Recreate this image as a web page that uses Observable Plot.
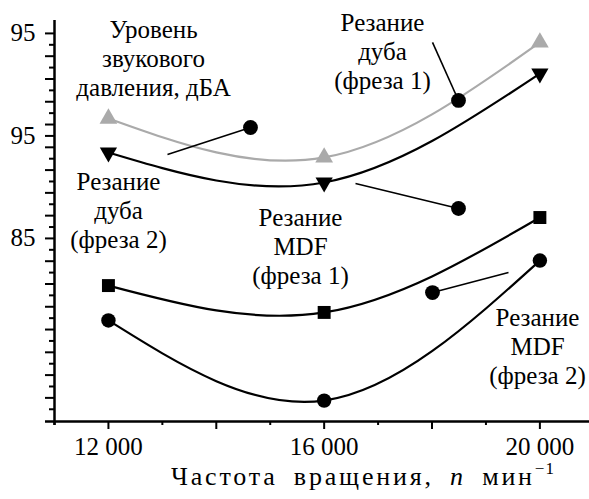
<!DOCTYPE html>
<html><head><meta charset="utf-8">
<script src="https://cdn.jsdelivr.net/npm/d3@7"></script>
<script src="https://cdn.jsdelivr.net/npm/@observablehq/plot@0.6"></script>
<style>
html,body{margin:0;padding:0;background:#fff;}
#chart{width:589px;height:464px;}
#caption{font-family:"Liberation Serif",serif;font-size:26px;line-height:25px;width:452px;margin-left:137px;text-align:center;white-space:nowrap;color:#000;letter-spacing:2.8px;word-spacing:7px;}
#caption .sup{font-size:17px;position:relative;top:-11px;letter-spacing:1px;}
</style>
</head><body>
<div id="chart"></div>
<div id="caption">Частота вращения, <i>n</i> мин<span class="sup">−1</span></div>
<script>
// Spindle speed, rpm
const rpm = [12000, 16000, 20000];
// Sound pressure level, dBA
const oakCutter1 = [90.85, 88.95, 94.56];  // grey, up triangles
const oakCutter2 = [89.19, 87.73, 93.04];  // black, down triangles
const mdfCutter1 = [82.70, 81.39, 86.02];  // squares
const mdfCutter2 = [81.00, 77.09, 83.92];  // circles

// Axis tick labels
const xLabelTicks = [12000, 16000, 20000];
const yLabelTicks = [95, 90, 85];
const yLabelText = ["95", "95", "85"];

// Annotations (data units)
const labelText = ["Уровень\nзвукового\nдавления, дБА", "Резание\nдуба\n(фреза 1)", "Резание\nдуба\n(фреза 2)", "Резание\nMDF\n(фреза 1)", "Резание\nMDF\n(фреза 2)"];
const labelX = [12836, 17082, 12187, 15561, 19956];
const labelY = [91.97, 92.30, 84.51, 82.80, 77.92];
const leaderX1 = [13095, 18009, 16581, 19418];
const leaderY1 = [89.09, 94.56, 87.68, 83.34];
const leaderX2 = [14634, 18491, 18491, 18009];
const leaderY2 = [90.41, 91.73, 86.46, 82.36];

const xDomain = [11000, 20920];
const yDomain = [76.07, 95.63];

const rows = vals => rpm.map((x, i) => ({x, y: vals[i]}));
const gray = "#aaaaaa";

const xLong = d3.range(12000, 20001, 2000).filter(d => !xLabelTicks.includes(d));
const xShort = d3.range(11000, 20001, 2000);
const yAll = d3.range(0, 34).map(k => 95 - k * 5 / 9);
const yLong = yAll.filter((d, k) => k % 2 === 0 && !yLabelTicks.some(t => Math.abs(t - d) < 1e-6));
const yShort = yAll.filter((d, k) => k % 2 === 1 && !yLabelTicks.some(t => Math.abs(t - d) < 1e-6));
const yLabelMap = new Map(yLabelTicks.map((t, i) => [t, yLabelText[i]]));
const fmtX = d => d3.format(",")(d).replace(",", " ");
const idx = d3.range(leaderX1.length);

const chart = Plot.plot({
  width: 589, height: 464,
  marginLeft: 54, marginRight: 0, marginTop: 20, marginBottom: 43,
  x: {domain: xDomain},
  y: {domain: yDomain},
  style: {fontFamily: "'Liberation Serif', serif", fontSize: "25px", color: "#000", background: "#fff", overflow: "visible"},
  marks: [
    Plot.axisX(xLabelTicks, {tickSize: 8, tickPadding: 8, strokeWidth: 2, tickFormat: fmtX, label: null, fontSize: 25}),
    Plot.axisX(xLong, {tickSize: 8, strokeWidth: 2, tickFormat: () => "", label: null}),
    Plot.axisX(xShort, {tickSize: 4, strokeWidth: 2, tickFormat: () => "", label: null}),
    Plot.axisY(yLabelTicks, {tickSize: 9, tickPadding: 10, strokeWidth: 2, tickFormat: d => yLabelMap.get(d), label: null, fontSize: 25}),
    Plot.axisY(yLong, {tickSize: 9, strokeWidth: 2, tickFormat: () => "", label: null}),
    Plot.axisY(yShort, {tickSize: 5, strokeWidth: 2, tickFormat: () => "", label: null}),
    Plot.ruleX([xDomain[0]], {strokeWidth: 2.5, insetBottom: -4}),
    Plot.ruleY([yDomain[0]], {strokeWidth: 2.5, insetLeft: -9}),
    Plot.line(rows(oakCutter1), {x: "x", y: "y", curve: "natural", stroke: gray, strokeWidth: 2.2}),
    Plot.dot(rows(oakCutter1), {x: "x", y: "y", symbol: "triangle", r: 6.6, fill: gray}),
    Plot.line(rows(oakCutter2), {x: "x", y: "y", curve: "natural", stroke: "#000", strokeWidth: 2.2}),
    Plot.dot(rows(oakCutter2), {x: "x", y: "y", symbol: "triangle", rotate: 180, r: 6.4, fill: "#000"}),
    Plot.line(rows(mdfCutter1), {x: "x", y: "y", curve: "natural", stroke: "#000", strokeWidth: 2.2}),
    Plot.dot(rows(mdfCutter1), {x: "x", y: "y", symbol: "square", r: 7.3, fill: "#000"}),
    Plot.line(rows(mdfCutter2), {x: "x", y: "y", curve: "natural", stroke: "#000", strokeWidth: 2.2}),
    Plot.dot(rows(mdfCutter2), {x: "x", y: "y", r: 7.2, fill: "#000"}),
    Plot.link(idx, {x1: leaderX1, y1: leaderY1, x2: leaderX2, y2: leaderY2, stroke: "#000", strokeWidth: 1.6}),
    Plot.dot(idx, {x: leaderX2, y: leaderY2, r: 7.4, fill: "#000"}),
    Plot.text(labelText, {x: labelX, y: labelY, text: d => d, textAnchor: "middle", lineAnchor: "bottom", lineHeight: 1.16, fontSize: 25, fill: "#000"})
  ]
});
document.getElementById("chart").appendChild(chart);
</script>
</body></html>
